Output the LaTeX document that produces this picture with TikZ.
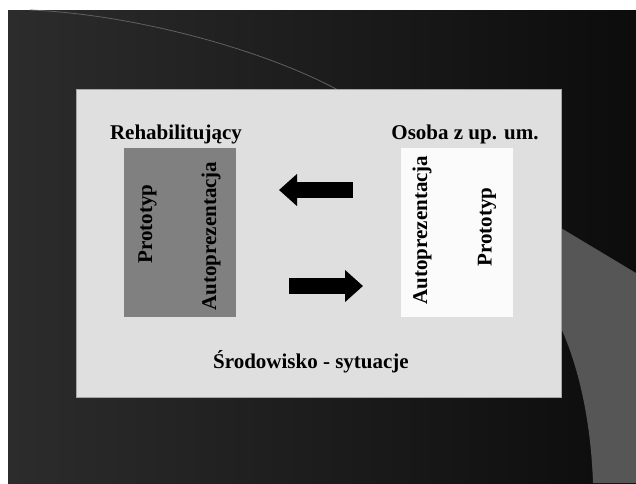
\documentclass[tikz,border=0pt]{standalone}
\usepackage{fontspec}
\setmainfont{Liberation Serif}
\usetikzlibrary{arrows.meta}
\definecolor{slideL}{HTML}{2C2C2C}
\definecolor{slideR}{HTML}{0C0C0C}
\definecolor{swoosh}{HTML}{565656}
\definecolor{panel}{HTML}{DFDFDF}
\definecolor{darkbox}{HTML}{808080}
\definecolor{lightbox}{HTML}{FBFBFB}
\tikzset{
  lbl/.style={font=\fontsize{21}{25}\selectfont\bfseries, inner sep=0pt},
  vlbl/.style={lbl, rotate=90},
  blockarrow/.style={line width=16pt, line cap=butt, -{Triangle[length=18pt,width=31pt]}},
}
\begin{document}
\begin{tikzpicture}[x=1pt,y=-1pt]
  \useasboundingbox (0,0) rectangle (636,483);
  \fill[white] (0,0) rectangle (636,483);
  % slide background
  \shade[left color=slideL, right color=slideR] (8,10) rectangle (636,483);
  % thin arc at the top
  \draw[color=gray!75!black, line width=0.8pt] (30,10) .. controls (130,14) and (260,48) .. (338,90);
  % grey swoosh on the right
  \fill[swoosh] (540,215.4) -- (636,273) -- (636,483) -- (593,483)
     .. controls (591,425) and (580,370) .. (561,328) -- (540,328) -- cycle;
  % main panel
  \node[draw=gray!70, line width=0.6pt, fill=panel, minimum width=485pt, minimum height=308pt,
        inner sep=0pt] (panel) at (318.5,243) {};
  % two boxes
  \node[fill=darkbox, minimum width=112pt, minimum height=169pt, inner sep=0pt] (left) at (180,232.5) {};
  \node[fill=lightbox, minimum width=112pt, minimum height=169pt, inner sep=0pt] (right) at (457,232.5) {};
  % headings
  \node[lbl, anchor=base] (lhead) at (176,139) {Rehabilitujący};
  \node[lbl, anchor=base] (rhead) at (465,139) {Osoba z up. um.};
  \node[lbl, anchor=base] (foot) at (311,368) {Środowisko - sytuacje};
  % vertical labels
  \node[vlbl] (lproto) at (147.5,224) {Prototyp};
  \node[vlbl] (lauto) at (211,236) {Autoprezentacja};
  \node[vlbl] (rauto) at (422,230) {Autoprezentacja};
  \node[vlbl] (rproto) at (487,227) {Prototyp};
  % exchange arrows
  \coordinate (a1s) at (353,190);
  \coordinate (a1e) at (279,190);
  \coordinate (a2s) at (289,286);
  \coordinate (a2e) at (363,286);
  \draw[blockarrow] (a1s) -- (a1e);
  \draw[blockarrow] (a2s) -- (a2e);
\end{tikzpicture}
\end{document}
